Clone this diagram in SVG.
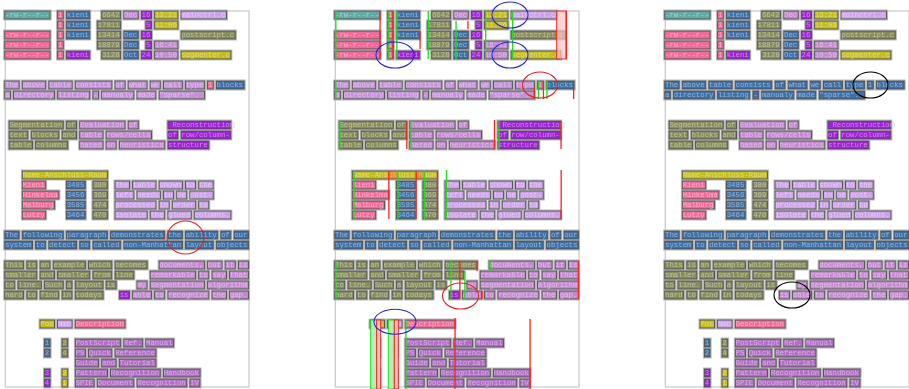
<svg xmlns="http://www.w3.org/2000/svg" width="909" height="389" viewBox="0 0 909 389">
<style>
.t,.p,.b,.o,.m,.v,.y,.l,.q,.n{height:8px;stroke:#4d4d4d;stroke-width:.9px}
.t{fill:#64aaa4}.p{fill:#f06a9a}.b{fill:#3d6fa6}.o{fill:#878c5a}.m{fill:#c38ad0}.v{fill:#9f20d6}.y{fill:#c4bd1e}.l{fill:#cda2e8}.q{fill:#b06ec4}
.x{font-family:"Liberation Mono","DejaVu Sans Mono",monospace;font-size:7.35px;fill:#fff;fill-opacity:.45;white-space:pre}
.f{fill:none;stroke:#c8c8c8;stroke-width:1.2}
.g{fill:#1edc1e;width:1.3px}.r{fill:#ff2020;width:1.3px}
.gb{fill:#b4f0b4;stroke:#1edc1e;stroke-width:1}.pb{fill:#ffc4c4;stroke:#ff2020;stroke-width:1}
.ring{fill:none;stroke-width:1.1}
</style>
<defs>
<filter id="halo" x="-5%" y="-5%" width="110%" height="110%"><feMorphology in="SourceAlpha" operator="dilate" radius="1.2" result="d"/><feFlood flood-color="#b4b4b4" result="c"/><feComposite in="c" in2="d" operator="in" result="h"/><feMerge><feMergeNode in="h"/><feMergeNode in="SourceGraphic"/></feMerge></filter>
<g id="page" xml:space="preserve">
<rect class="f" x="5.3" y="11" width="243.7" height="376"/>
<g id="words" filter="url(#halo)">
<g transform="translate(0,11)"><rect class="t" x="4.7" width="45.4"/><rect class="p" x="57.6" width="5.7"/><rect class="b" x="66.4" width="23.4"/><rect class="o" x="101.7" width="18.9"/><rect class="m" x="123.8" width="14.5"/><rect class="v" x="141.4" width="10.1"/><rect class="y" x="154.6" width="23.4"/><rect class="l" x="181.1" width="45.4"/><text class="x" x="5" y="6">-rw-r--r--  1 kieni   6642 Dec 16 13:21 mainctrl.c</text></g>
<g transform="translate(0,21)"><rect class="p" x="57.6" width="5.7"/><rect class="b" x="66.4" width="23.4"/><rect class="o" x="97.3" width="23.4"/><rect class="v" x="145.8" width="5.7"/><rect class="y" x="154.6" width="23.4"/><text class="x" x="57.92" y="6">1 kieni  17811      5 11:06</text></g>
<g transform="translate(0,31)"><rect class="p" x="4.7" width="45.4"/><rect class="p" x="57.6" width="5.7"/><rect class="b" x="66.4" width="23.4"/><rect class="o" x="97.3" width="23.4"/><rect class="b" x="123.8" width="14.5"/><rect class="v" x="141.4" width="10.1"/><rect class="o" x="181.1" width="54.2"/><text class="x" x="5" y="6">-rw-r--r--  1 kieni  13414 Dec 16       postscript.c</text></g>
<g transform="translate(0,41)"><rect class="p" x="4.7" width="45.4"/><rect class="p" x="57.6" width="5.7"/><rect class="o" x="97.3" width="23.4"/><rect class="b" x="123.8" width="14.5"/><rect class="v" x="145.8" width="5.7"/><rect class="m" x="154.6" width="23.4"/><text class="x" x="5" y="6">-rw-r--r--  1        18879 Dec  5 16:41</text></g>
<g transform="translate(0,51)"><rect class="p" x="4.7" width="45.4"/><rect class="p" x="57.6" width="5.7"/><rect class="v" x="66.4" width="23.4"/><rect class="o" x="101.7" width="18.9"/><rect class="b" x="123.8" width="14.5"/><rect class="v" x="141.4" width="10.1"/><rect class="m" x="154.6" width="23.4"/><rect class="y" x="181.1" width="49.8"/><text class="x" x="5" y="6">-rw-r--r--  1 kieni   3128 Oct 24 10:50 segmenter.c</text></g>
<g transform="translate(0,81)"><rect class="n" x="4.7" width="14.5"/><rect class="n" x="22.3" width="23.4"/><rect class="n" x="48.8" width="23.4"/><rect class="n" x="75.3" width="36.6"/><rect class="n" x="115" width="10.1"/><rect class="n" x="128.2" width="18.9"/><rect class="n" x="150.2" width="10.1"/><rect class="n" x="163.5" width="18.9"/><rect class="n" x="185.5" width="18.9"/><rect class="b" x="216.4" width="27.8"/><text class="x" x="5" y="6">The above table consists of what we call type   blocks</text></g>
<g transform="translate(0,91)"><rect class="n" x="4.7" width="5.7"/><rect class="n" x="13.5" width="41"/><rect class="n" x="57.6" width="32.2"/><rect class="n" x="92.9" width="5.7"/><rect class="n" x="101.7" width="32.2"/><rect class="n" x="137" width="18.9"/><rect class="n" x="159.1" width="45.4"/><text class="x" x="5" y="6">a directory listing - manualy made "sparse".</text></g>
<g transform="translate(0,121)"><rect class="o" x="9.1" width="54.2"/><rect class="o" x="66.4" width="10.1"/><rect class="m" x="79.7" width="45.4"/><rect class="m" x="128.2" width="10.1"/><rect class="v" x="167.9" width="63"/><text class="x" x="9.41" y="6">Segmentation of Evaluation of        Reconstruction</text></g>
<g transform="translate(0,131)"><rect class="o" x="9.1" width="18.9"/><rect class="o" x="31.2" width="27.8"/><rect class="o" x="62" width="14.5"/><rect class="m" x="79.7" width="23.4"/><rect class="m" x="106.1" width="45.4"/><rect class="v" x="167.9" width="10.1"/><rect class="v" x="181.1" width="49.8"/><text class="x" x="9.41" y="6">text blocks and table rows/cells    of row/column-</text></g>
<g transform="translate(0,141)"><rect class="o" x="9.1" width="23.4"/><rect class="o" x="35.6" width="32.2"/><rect class="m" x="79.7" width="23.4"/><rect class="m" x="106.1" width="10.1"/><rect class="m" x="119.4" width="45.4"/><rect class="v" x="167.9" width="41"/><text class="x" x="9.41" y="6">table columns   based on heuristics structure</text></g>
<g transform="translate(0,171)"><rect class="y" x="22.3" width="85.1"/><text class="x" x="22.64" y="6">Name-Anschluss-Raum</text></g>
<g transform="translate(0,181)"><rect class="p" x="22.3" width="23.4"/><rect class="b" x="66.4" width="18.9"/><rect class="o" x="92.9" width="14.5"/><rect class="l" x="115" width="14.5"/><rect class="l" x="132.6" width="23.4"/><rect class="l" x="159.1" width="23.4"/><rect class="l" x="185.5" width="10.1"/><rect class="l" x="198.7" width="14.5"/><text class="x" x="22.64" y="6">Kieni     3485  380  The table shown to the</text></g>
<g transform="translate(0,191)"><rect class="p" x="22.3" width="36.6"/><rect class="b" x="66.4" width="18.9"/><rect class="o" x="92.9" width="14.5"/><rect class="l" x="115" width="18.9"/><rect class="l" x="137" width="23.4"/><rect class="l" x="163.5" width="10.1"/><rect class="l" x="176.7" width="10.1"/><rect class="l" x="189.9" width="23.4"/><text class="x" x="22.64" y="6">Hinkelma  3456  369  left needs to be post-</text></g>
<g transform="translate(0,201)"><rect class="p" x="22.3" width="32.2"/><rect class="b" x="66.4" width="18.9"/><rect class="o" x="92.9" width="14.5"/><rect class="l" x="115" width="41"/><rect class="l" x="159.1" width="10.1"/><rect class="l" x="172.3" width="23.4"/><rect class="l" x="198.7" width="10.1"/><text class="x" x="22.64" y="6">Malburg   3585  474  processed in order to</text></g>
<g transform="translate(0,211)"><rect class="p" x="22.3" width="23.4"/><rect class="b" x="66.4" width="18.9"/><rect class="o" x="92.9" width="14.5"/><rect class="l" x="115" width="32.2"/><rect class="l" x="150.2" width="14.5"/><rect class="l" x="167.9" width="23.4"/><rect class="l" x="194.3" width="36.6"/><text class="x" x="22.64" y="6">Lutzy     3464  470  isolate the glued columns.</text></g>
<g transform="translate(0,231)"><rect class="b" x="4.7" width="14.5"/><rect class="b" x="22.3" width="41"/><rect class="b" x="66.4" width="41"/><rect class="b" x="110.5" width="54.2"/><rect class="b" x="167.9" width="14.5"/><rect class="b" x="185.5" width="32.2"/><rect class="b" x="220.8" width="10.1"/><rect class="b" x="234" width="14.5"/><text class="x" x="5" y="6">The following paragraph demonstrates the ability of our</text></g>
<g transform="translate(0,241)"><rect class="b" x="4.7" width="27.8"/><rect class="b" x="35.6" width="10.1"/><rect class="b" x="48.8" width="27.8"/><rect class="b" x="79.7" width="10.1"/><rect class="b" x="92.9" width="27.8"/><rect class="b" x="123.8" width="58.6"/><rect class="b" x="185.5" width="27.8"/><rect class="b" x="216.4" width="32.2"/><text class="x" x="5" y="6">system to detect so called non-Manhattan layout objects</text></g>
<g transform="translate(0,261)"><rect class="o" x="4.7" width="18.9"/><rect class="o" x="26.8" width="10.1"/><rect class="o" x="40" width="10.1"/><rect class="o" x="53.2" width="32.2"/><rect class="o" x="88.5" width="23.4"/><rect class="o" x="115" width="32.2"/><rect class="m" x="159.1" width="45.4"/><rect class="m" x="207.6" width="14.5"/><rect class="m" x="225.2" width="10.1"/><rect class="m" x="238.4" width="10.1"/><text class="x" x="5" y="6">This is an example which becomes   documents, but it is</text></g>
<g transform="translate(0,271)"><rect class="o" x="4.7" width="32.2"/><rect class="o" x="40" width="14.5"/><rect class="o" x="57.6" width="32.2"/><rect class="o" x="92.9" width="18.9"/><rect class="o" x="115" width="18.9"/><rect class="m" x="150.2" width="45.4"/><rect class="m" x="198.7" width="10.1"/><rect class="m" x="212" width="14.5"/><rect class="m" x="229.6" width="18.9"/><text class="x" x="5" y="6">smaller and smaller from line    remarkable to say that</text></g>
<g transform="translate(0,281)"><rect class="o" x="4.7" width="10.1"/><rect class="o" x="17.9" width="23.4"/><rect class="o" x="44.4" width="18.9"/><rect class="o" x="66.4" width="5.7"/><rect class="o" x="75.3" width="27.8"/><rect class="o" x="106.1" width="10.1"/><rect class="m" x="137" width="10.1"/><rect class="m" x="150.2" width="54.2"/><rect class="m" x="207.6" width="41"/><text class="x" x="5" y="6">to line. Such a layout is     my segmentation algorithm</text></g>
<g transform="translate(0,291)"><rect class="o" x="4.7" width="18.9"/><rect class="o" x="26.8" width="10.1"/><rect class="o" x="40" width="18.9"/><rect class="o" x="62" width="10.1"/><rect class="o" x="75.3" width="27.8"/><rect class="m" x="132.6" width="18.9"/><rect class="m" x="154.6" width="10.1"/><rect class="m" x="167.9" width="41"/><rect class="m" x="212" width="14.5"/><rect class="m" x="229.6" width="18.9"/><text class="x" x="5" y="6">hard to find in todays       able to recognize the gap.</text></g>
<g transform="translate(0,320)"><rect class="y" x="40" width="14.5"/><rect class="l" x="57.6" width="14.5"/><rect class="p" x="75.3" width="49.8"/><text class="x" x="40.28" y="6">Pos Nmb Description</text></g>
<g transform="translate(0,339)"><rect class="b" x="44.4" width="5.7"/><rect class="o" x="62" width="5.7"/><rect class="q" x="75.3" width="45.4"/><rect class="q" x="123.8" width="18.9"/><rect class="q" x="145.8" width="27.8"/><text class="x" x="44.69" y="6">1   2  PostScript Ref. Manual</text></g>
<g transform="translate(0,349)"><rect class="b" x="44.4" width="5.7"/><rect class="o" x="62" width="5.7"/><rect class="q" x="75.3" width="10.1"/><rect class="q" x="88.5" width="23.4"/><rect class="q" x="115" width="41"/><text class="x" x="44.69" y="6">2   4  PS Quick Reference</text></g>
<g transform="translate(0,359)"><rect class="q" x="75.3" width="23.4"/><rect class="q" x="101.7" width="14.5"/><rect class="q" x="119.4" width="36.6"/><text class="x" x="75.56" y="6">Guide and Tutorial</text></g>
<g transform="translate(0,369)"><rect class="v" x="44.4" width="5.7"/><rect class="y" x="62" width="5.7"/><rect class="q" x="75.3" width="32.2"/><rect class="q" x="110.5" width="49.8"/><rect class="q" x="163.5" width="36.6"/><text class="x" x="44.69" y="6">3   2  Pattern Recognition Handbook</text></g>
<g transform="translate(0,379)"><rect class="v" x="44.4" width="5.7"/><rect class="y" x="62" width="5.7"/><rect class="q" x="75.3" width="18.9"/><rect class="q" x="97.3" width="36.6"/><rect class="q" x="137" width="49.8"/><rect class="q" x="189.9" width="10.1"/><text class="x" x="44.69" y="6">4   1  SPIE Document Recognition IV</text></g>
</g>
</g>
<g id="swap-left" filter="url(#halo)"><rect class="p" x="207.6" y="81" width="5.7"/><text class="x" x="207.86" y="87">1</text><rect class="v" x="119.4" y="291" width="10.1"/><text class="x" x="119.66" y="297">is</text></g>
<g id="swap-right" filter="url(#halo)"><rect class="b" x="207.6" y="81" width="5.7"/><text class="x" x="207.86" y="87">1</text><rect class="m" x="119.4" y="291" width="10.1"/><text class="x" x="119.66" y="297">is</text></g>
</defs>

<g id="panel-left">
<use href="#page" fill="#c392d6"/>
<use href="#swap-left"/>
<ellipse class="ring" cx="185.5" cy="237.5" rx="18.5" ry="16.5" stroke="#e82020"/>
</g>

<g id="panel-middle" transform="translate(330,0)">
<use href="#page" fill="#c392d6"/>
<use href="#swap-left"/>
<g id="column-markers">
<rect class="pb" x="226.7" y="11" width="9.8" height="48" fill-opacity=".7"/>
<rect class="g" x="5.2" y="11" height="48"/><rect class="g" x="57.6" y="11" height="48"/><rect class="g" x="66.2" y="11" height="48"/><rect class="g" x="97.6" y="11" height="48"/><rect class="g" x="125.4" y="21" height="38"/><rect class="g" x="155" y="11" height="48"/><rect class="g" x="182" y="11" height="48"/>
<rect class="r" x="49.4" y="11" height="48"/><rect class="r" x="62.3" y="11" height="48"/><rect class="r" x="89.4" y="31" height="18"/><rect class="r" x="137.3" y="21" height="8"/><rect class="r" x="235.4" y="11" height="48"/>
<rect class="g" x="5.2" y="81" height="18"/><rect class="r" x="203.6" y="88" height="11"/><rect class="g" x="207.8" y="81" height="18"/><rect class="r" x="212.8" y="81" height="18"/><rect class="g" x="216.3" y="81" height="18"/><rect class="r" x="243" y="88" height="11"/>
<rect class="g" x="9.3" y="121" height="28"/><rect class="r" x="76.2" y="121" height="28"/><rect class="g" x="80.4" y="121" height="28"/><rect class="r" x="163.8" y="120" height="29"/><rect class="g" x="168.3" y="121" height="28"/><rect class="r" x="230.4" y="121" height="28"/>
<rect x="58.3" y="171" width="8.5" height="8" fill="#ff5050" fill-opacity=".35"/><rect x="85.7" y="171" width="8" height="8" fill="#ff5050" fill-opacity=".35"/>
<rect class="g" x="23.3" y="171" height="48"/><rect class="r" x="58.2" y="171" height="48"/><rect class="g" x="67.3" y="171" height="48"/><rect class="r" x="85.5" y="171" height="48"/><rect class="g" x="93.8" y="171" height="48"/><rect class="r" x="106.8" y="171" height="48"/><rect class="g" x="115.8" y="170" height="49"/><rect class="r" x="230.5" y="170" height="49"/>
<rect class="g" x="5.3" y="261" height="38"/><rect class="g" x="120.3" y="261" height="38"/><rect class="r" x="129.2" y="261" height="38"/><rect class="g" x="134.2" y="271" height="28"/><rect class="r" x="146.4" y="261" height="10"/><rect class="r" x="151.4" y="291" height="8"/><rect class="g" x="159.4" y="261" height="10"/><rect class="r" x="247.8" y="261" height="38"/>
<rect class="gb" x="40.7" y="320" width="6" height="69"/><rect class="pb" x="46.7" y="320" width="4" height="69"/><rect class="gb" x="58.3" y="320" width="6" height="69"/><rect class="pb" x="64.3" y="320" width="4" height="69"/>
<rect class="g" x="75.3" y="320" height="69"/><rect class="r" x="124.4" y="318" height="71"/><rect class="r" x="199.4" y="319" height="70"/>
</g>
<ellipse class="ring" cx="180" cy="15" rx="18" ry="13" stroke="#2424e0"/>
<ellipse class="ring" cx="65" cy="55" rx="19" ry="13" stroke="#2424e0"/>
<ellipse class="ring" cx="180" cy="55" rx="18" ry="13" stroke="#2424e0"/>
<ellipse class="ring" cx="210" cy="85" rx="17.5" ry="13" stroke="#e82020"/>
<ellipse class="ring" cx="130.5" cy="296" rx="18" ry="13" stroke="#e82020"/>
<ellipse class="ring" cx="65" cy="321.7" rx="21" ry="12.5" stroke="#2424e0"/>
</g>

<g id="panel-right" transform="translate(660,0)">
<use href="#page" fill="#3d6fa6"/>
<use href="#swap-right"/>
<ellipse class="ring" cx="210.5" cy="85" rx="17.5" ry="13" stroke="#000"/>
<ellipse class="ring" cx="132" cy="295" rx="18" ry="13" stroke="#000"/>
</g>
</svg>
